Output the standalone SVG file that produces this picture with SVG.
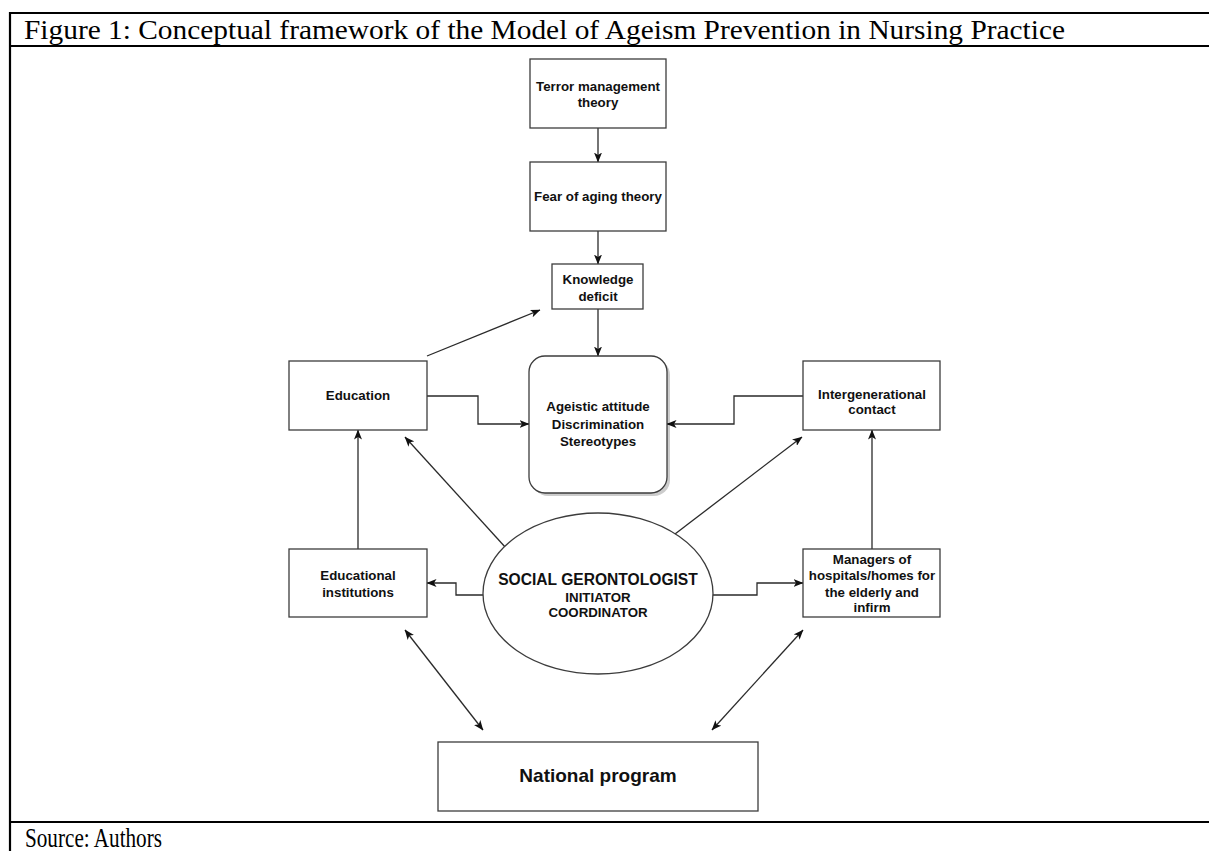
<svg xmlns="http://www.w3.org/2000/svg" width="1209" height="851" viewBox="0 0 1209 851">
<defs>
<style>
.frame{stroke:#000;stroke-width:2.2;fill:none}
.cap{font-family:"Liberation Serif","Times New Roman",serif;font-size:28px;fill:#000}
.box{fill:#fff;stroke:#3c3c3c;stroke-width:1.3}
.lbl{font-family:"Liberation Sans",Arial,Helvetica,sans-serif;font-weight:bold;font-size:13.3px;fill:#111;text-anchor:middle}
.big{font-size:15.6px}
.nat{font-size:19px}
.con{fill:none;stroke:#2a2a2a;stroke-width:1.3}
.one{marker-end:url(#arr)}
.two{marker-end:url(#arr);marker-start:url(#arr)}
</style>
<marker id="arr" viewBox="0 0 10 8" refX="9.5" refY="4" markerWidth="10" markerHeight="8" markerUnits="userSpaceOnUse" orient="auto-start-reverse">
<path d="M0,0 L10,4 L0,8 L2.5,4 z" fill="#111"/>
</marker>
</defs>
<rect width="1209" height="851" fill="#fff"/>
<g id="frame">
<line class="frame" x1="9" y1="13" x2="1209" y2="13"/>
<line class="frame" x1="9" y1="46" x2="1209" y2="46"/>
<line class="frame" x1="9" y1="822" x2="1209" y2="822"/>
<line class="frame" x1="10" y1="12" x2="10" y2="851"/>
<text class="cap" x="24" y="39" textLength="1041" lengthAdjust="spacingAndGlyphs">Figure 1: Conceptual framework of the Model of Ageism Prevention in Nursing Practice</text>
<text class="cap" x="25" y="847" textLength="137" lengthAdjust="spacingAndGlyphs">Source: Authors</text>
</g>
<g id="connectors">
<path class="con one" d="M598,128 V162"/>
<path class="con one" d="M598,231 V264"/>
<path class="con one" d="M598,309 V356"/>
<path class="con one" d="M427,356 L540,310"/>
<path class="con one" d="M427,396 H478 V424 H529"/>
<path class="con one" d="M803,396 H734 V424 H667"/>
<path class="con one" d="M358,549 V430"/>
<path class="con one" d="M872,549 V430"/>
<path class="con one" d="M506,548 L405,437"/>
<path class="con one" d="M675,534 L802,437"/>
<path class="con one" d="M483,595 H456 V583 H427"/>
<path class="con one" d="M712,595 H757 V583 H803"/>
<path class="con two" d="M405,630 L483,730"/>
<path class="con two" d="M803,630 L712,730"/>
</g>
<g id="terror">
<rect class="box" x="530" y="59" width="136" height="69"/>
<text class="lbl" x="598" y="90.5">Terror management</text>
<text class="lbl" x="598" y="106.5">theory</text>
</g>
<g id="fear">
<rect class="box" x="530" y="162" width="136" height="69"/>
<text class="lbl" x="598" y="201">Fear of aging theory</text>
</g>
<g id="knowledge">
<rect class="box" x="552" y="264" width="91" height="45"/>
<text class="lbl" x="598" y="283.5">Knowledge</text>
<text class="lbl" x="598" y="300.5">deficit</text>
</g>
<g id="ageistic">
<rect x="532" y="359" width="138" height="137" rx="16" ry="16" fill="#000" opacity="0.2"/>
<rect class="box" x="529" y="356" width="138" height="137" rx="16" ry="16"/>
<text class="lbl" x="598" y="410.5">Ageistic attitude</text>
<text class="lbl" x="598" y="428.5">Discrimination</text>
<text class="lbl" x="598" y="446">Stereotypes</text>
</g>
<g id="education">
<rect class="box" x="289" y="361" width="138" height="69"/>
<text class="lbl" x="358" y="400">Education</text>
</g>
<g id="intergenerational">
<rect class="box" x="803" y="361" width="137" height="69"/>
<text class="lbl" x="872" y="398.5">Intergenerational</text>
<text class="lbl" x="872" y="414">contact</text>
</g>
<g id="edu-institutions">
<rect class="box" x="289" y="549" width="138" height="68"/>
<text class="lbl" x="358" y="579.5">Educational</text>
<text class="lbl" x="358" y="596.5">institutions</text>
</g>
<g id="managers">
<rect class="box" x="803" y="549" width="137" height="68"/>
<text class="lbl" x="872" y="563.5">Managers of</text>
<text class="lbl" x="872" y="579.5">hospitals/homes for</text>
<text class="lbl" x="872" y="596.5">the elderly and</text>
<text class="lbl" x="872" y="611.5">infirm</text>
</g>
<g id="social-gerontologist">
<ellipse class="box" cx="598" cy="593.5" rx="115" ry="80.5"/>
<text class="lbl big" x="598" y="584.5">SOCIAL GERONTOLOGIST</text>
<text class="lbl" x="598" y="601.5">INITIATOR</text>
<text class="lbl" x="598" y="616.5">COORDINATOR</text>
</g>
<g id="national">
<rect class="box" x="438" y="742" width="320" height="69"/>
<text class="lbl nat" x="598" y="782">National program</text>
</g>
</svg>
